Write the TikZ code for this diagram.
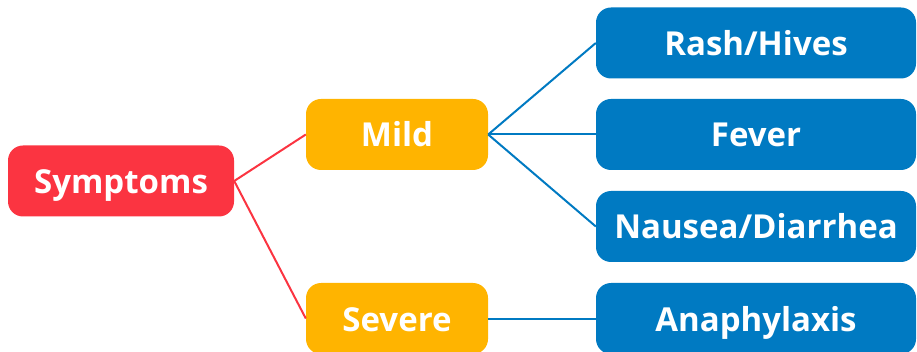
\documentclass[tikz,border=0pt]{standalone}
\usepackage{fontspec}
\setmainfont{Open Sans}
\definecolor{cred}{RGB}{251,52,65}
\definecolor{corange}{RGB}{255,180,0}
\definecolor{cblue}{RGB}{0,122,194}
\begin{document}
\begin{tikzpicture}[x=1pt,y=-1pt,
  box/.style={rounded corners=15pt, inner sep=0pt, text=white,
    font=\fontsize{33}{36}\selectfont\bfseries, minimum height=71pt,
    text height=25pt, text depth=0pt},
  root/.style={box, fill=cred, minimum width=226pt},
  mid/.style={box, fill=corange, minimum width=182pt},
  leaf/.style={box, fill=cblue, minimum width=320pt},
  redline/.style={draw=cred, line width=2pt},
  blueline/.style={draw=cblue, line width=2pt}]
\useasboundingbox (0,0) rectangle (917,352);
\node[root] (sym) at (121,181) {Symptoms};
\node[mid] (mild) at (397,134.5) {Mild};
\node[mid] (sev) at (397,318.5) {Severe};
\node[leaf] (rash) at (756,43) {Rash/Hives};
\node[leaf] (fev) at (756,134.5) {Fever};
\node[leaf] (nau) at (756,226.5) {Nausea/Diarrhea};
\node[leaf] (ana) at (756,318.5) {Anaphylaxis};
\draw[redline] (sym.east) -- (mild.west);
\draw[redline] (sym.east) -- (sev.west);
\draw[blueline] (mild.east) -- (rash.west);
\draw[blueline] (mild.east) -- (fev.west);
\draw[blueline] (mild.east) -- (nau.west);
\draw[blueline] (sev.east) -- (ana.west);
\end{tikzpicture}
\end{document}
